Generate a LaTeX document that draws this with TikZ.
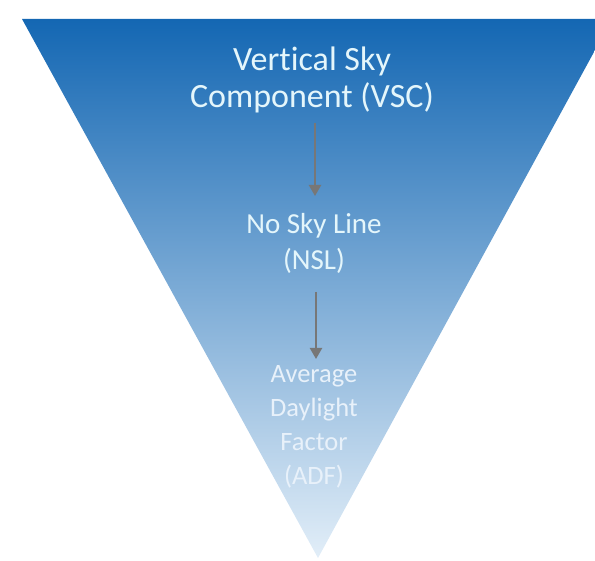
\documentclass[tikz,border=0pt]{standalone}
\usepackage{fontspec}
\setmainfont{Carlito}[Ligatures=NoCommon]
\usetikzlibrary{arrows.meta}
\definecolor{topblue}{HTML}{1467B3}
\definecolor{midblue}{HTML}{6EA8DA}
\definecolor{lowblue}{HTML}{E2EEF8}
\definecolor{txtlight}{HTML}{E4F6FB}
\definecolor{txtfaint}{HTML}{E8F1FA}
\definecolor{arrowgray}{HTML}{777777}
\tikzset{
  label/.style={align=center, inner sep=0pt},
  flow/.style={draw=arrowgray, line width=2.2pt, -{Triangle[length=11pt,width=12pt]}}
}
\begin{document}
\begin{tikzpicture}[x=1pt,y=-1pt]
  \useasboundingbox (0,0) rectangle (595,561);
  \begin{scope}
    \clip (0,0) rectangle (595,561);
    % inverted triangle with a vertical blue gradient
    \shade[top color=topblue, middle color=midblue, bottom color=lowblue]
      (22,19) -- (612,19) -- (318,558) -- cycle;
  \end{scope}
  \node[label, text=txtlight, font=\fontsize{34}{37}\selectfont] (vsc) at (312,80)
    {Vertical Sky\\Component (VSC)};
  \node[label, text=txtlight, font=\fontsize{29}{36}\selectfont] (nsl) at (314,243)
    {No Sky Line\\(NSL)};
  \node[label, text=txtfaint, font=\fontsize{26.5}{34}\selectfont] (adf) at (314,427)
    {Average\\Daylight\\Factor\\(ADF)};
  \coordinate (a1s) at (315,123);
  \coordinate (a1e) at (315,196);
  \coordinate (a2s) at (316,292);
  \coordinate (a2e) at (316,359);
  \draw[flow] (a1s) -- (a1e);
  \draw[flow] (a2s) -- (a2e);
\end{tikzpicture}
\end{document}
